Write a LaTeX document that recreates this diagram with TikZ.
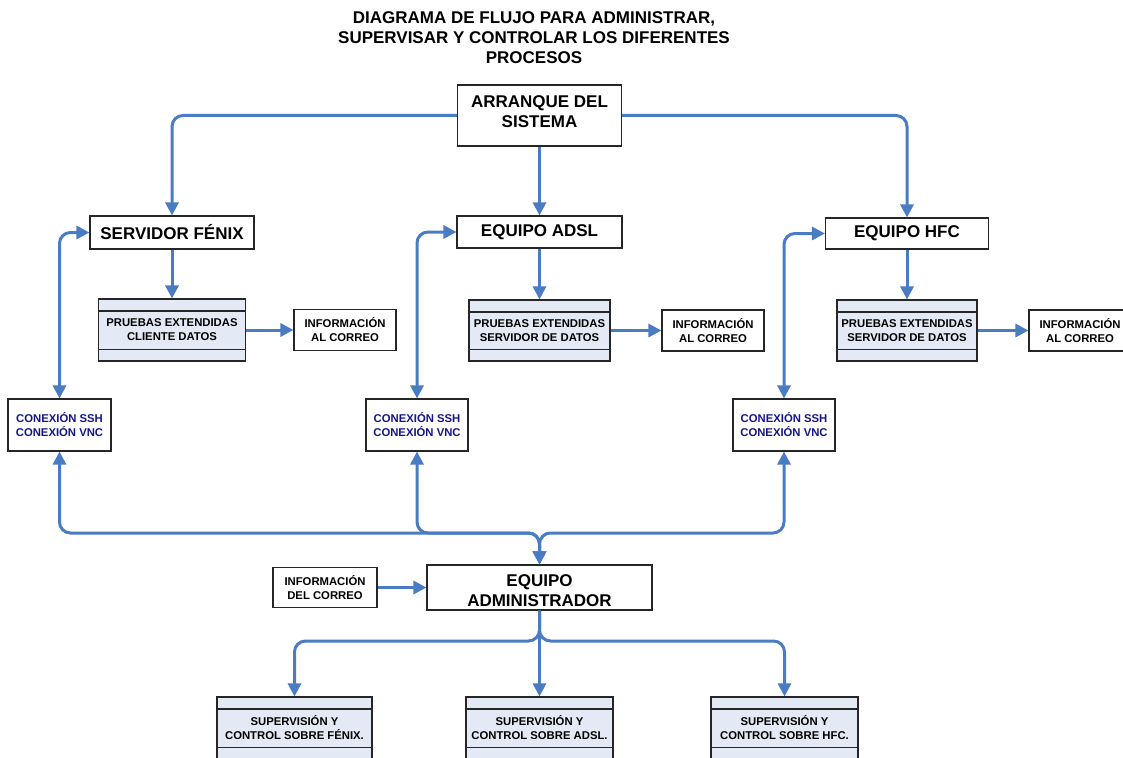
\documentclass[tikz,border=0pt]{standalone}
\usepackage{fontspec}
\setmainfont{Liberation Sans}
\usetikzlibrary{arrows.meta}
\definecolor{flowblue}{HTML}{4A7CC4}
\definecolor{panelfill}{HTML}{E4EAF5}
\definecolor{linknavy}{HTML}{16168A}
\begin{document}
\begin{tikzpicture}[x=1pt,y=-1pt,
  every node/.style={inner sep=0pt, align=center},
  bigtext/.style={font=\fontsize{17}{20}\selectfont\bfseries},
  smalltext/.style={font=\fontsize{11.3}{14}\selectfont\bfseries},
  box/.style={draw=black!85, line width=1.1pt, fill=white},
  bigbox/.style={box, bigtext},
  smallbox/.style={box, smalltext},
  testbox/.style={box, smalltext, fill=panelfill},
  linkbox/.style={box, smalltext, text=linknavy},
  flow/.style={draw=flowblue, line width=3pt, rounded corners=11pt, -{Triangle[length=13pt,width=13pt]}},
  twoway/.style={draw=flowblue, line width=3pt, rounded corners=11pt, {Triangle[length=13pt,width=13pt]}-{Triangle[length=13pt,width=13pt]}},
  strip/.style={draw=black!85, line width=1.1pt},
]
\useasboundingbox (0,0) rectangle (1123,757);
\clip (0,0) rectangle (1123,757);

% title
\node[bigtext] (title) at (534,37.5) {DIAGRAMA DE FLUJO PARA ADMINISTRAR,\\SUPERVISAR Y CONTROLAR LOS DIFERENTES\\PROCESOS};

% start and the three systems
\node[box, minimum width=164pt, minimum height=61pt] (arr) at (539.5,115.5) {};
\node[bigtext] (arrtext) at (539.5,112) {ARRANQUE DEL\\SISTEMA};
\node[bigbox, minimum width=164pt, minimum height=33pt] (fen) at (172,232.5) {SERVIDOR FÉNIX};
\node[bigbox, minimum width=165pt, minimum height=32pt] (adsl) at (539.5,232) {EQUIPO ADSL};
\node[bigbox, minimum width=163pt, minimum height=31pt] (hfc) at (907,233.5) {EQUIPO HFC};

% extended tests
\node[testbox, minimum width=147pt, minimum height=62pt] (pf) at (172,330) {PRUEBAS EXTENDIDAS\\CLIENTE DATOS};
\node[testbox, minimum width=141pt, minimum height=61pt] (pa) at (539.5,330.5) {PRUEBAS EXTENDIDAS\\SERVIDOR DE DATOS};
\node[testbox, minimum width=140pt, minimum height=61pt] (ph) at (907,330.5) {PRUEBAS EXTENDIDAS\\SERVIDOR DE DATOS};

% mail reports
\node[smallbox, minimum width=102pt, minimum height=41pt] (if) at (345,330) {INFORMACIÓN\\AL CORREO};
\node[smallbox, minimum width=102pt, minimum height=41pt] (ia) at (713,330.5) {INFORMACIÓN\\AL CORREO};
\node[smallbox, minimum width=102pt, minimum height=41pt] (ih) at (1080,330.5) {INFORMACIÓN\\AL CORREO};

% remote connections
\node[linkbox, minimum width=103pt, minimum height=52pt] (cf) at (59.5,425) {CONEXIÓN SSH\\CONEXIÓN VNC};
\node[linkbox, minimum width=102pt, minimum height=52pt] (ca) at (417,425) {CONEXIÓN SSH\\CONEXIÓN VNC};
\node[linkbox, minimum width=102pt, minimum height=52pt] (ch) at (784,425) {CONEXIÓN SSH\\CONEXIÓN VNC};

% administrator
\node[box, minimum width=225pt, minimum height=45pt] (adm) at (539.5,587.5) {};
\node[bigtext] (admtext) at (539.5,590.5) {EQUIPO\\ADMINISTRADOR};
\node[smallbox, minimum width=104pt, minimum height=40pt] (idc) at (325,587.5) {INFORMACIÓN\\DEL CORREO};

% supervision
\node[testbox, minimum width=155pt, minimum height=62pt] (sf) at (294.5,728) {SUPERVISIÓN Y\\CONTROL SOBRE FÉNIX.};
\node[testbox, minimum width=147pt, minimum height=62pt] (sa) at (539.5,728) {SUPERVISIÓN Y\\CONTROL SOBRE ADSL.};
\node[testbox, minimum width=147pt, minimum height=62pt] (sh) at (784.5,728) {SUPERVISIÓN Y\\CONTROL SOBRE HFC.};

% header and footer strips of the panel boxes
\foreach \n in {pf,pa,ph,sf,sa,sh} {
  \draw[strip] ([yshift=-12.5pt]\n.north west) -- ([yshift=-12.5pt]\n.north east);
  \draw[strip] ([yshift=12.5pt]\n.south west) -- ([yshift=12.5pt]\n.south east);
}

% junction points
\coordinate (jn) at (539.5,533);
\coordinate (jb) at (539.5,641);

% start-up flow
\draw[flow] (arr.west) -| (fen.north);
\draw[flow] (arr.south) -- (adsl.north);
\draw[flow] (arr.east) -| (hfc.north);

\draw[flow] (fen.south) -- (pf.north);
\draw[flow] (adsl.south) -- (pa.north);
\draw[flow] (hfc.south) -- (ph.north);

\draw[flow] (pf.east) -- (if.west);
\draw[flow] (pa.east) -- (ia.west);
\draw[flow] (ph.east) -- (ih.west);

% remote access links
\draw[twoway] (fen.west) -| (cf.north);
\draw[twoway] (adsl.west) -| (ca.north);
\draw[twoway] (hfc.west) -| (ch.north);

\draw[twoway] (cf.south) |- (jn) -- (adm.north);
\draw[twoway] (ca.south) |- (jn) -- (adm.north);
\draw[twoway] (ch.south) |- (jn) -- (adm.north);

\draw[flow] (idc.east) -- (adm.west);

% supervision branches
\draw[flow] (adm.south) -- (jb) -| (sf.north);
\draw[flow] (adm.south) -- (sa.north);
\draw[flow] (adm.south) -- (jb) -| (sh.north);
\end{tikzpicture}
\end{document}
